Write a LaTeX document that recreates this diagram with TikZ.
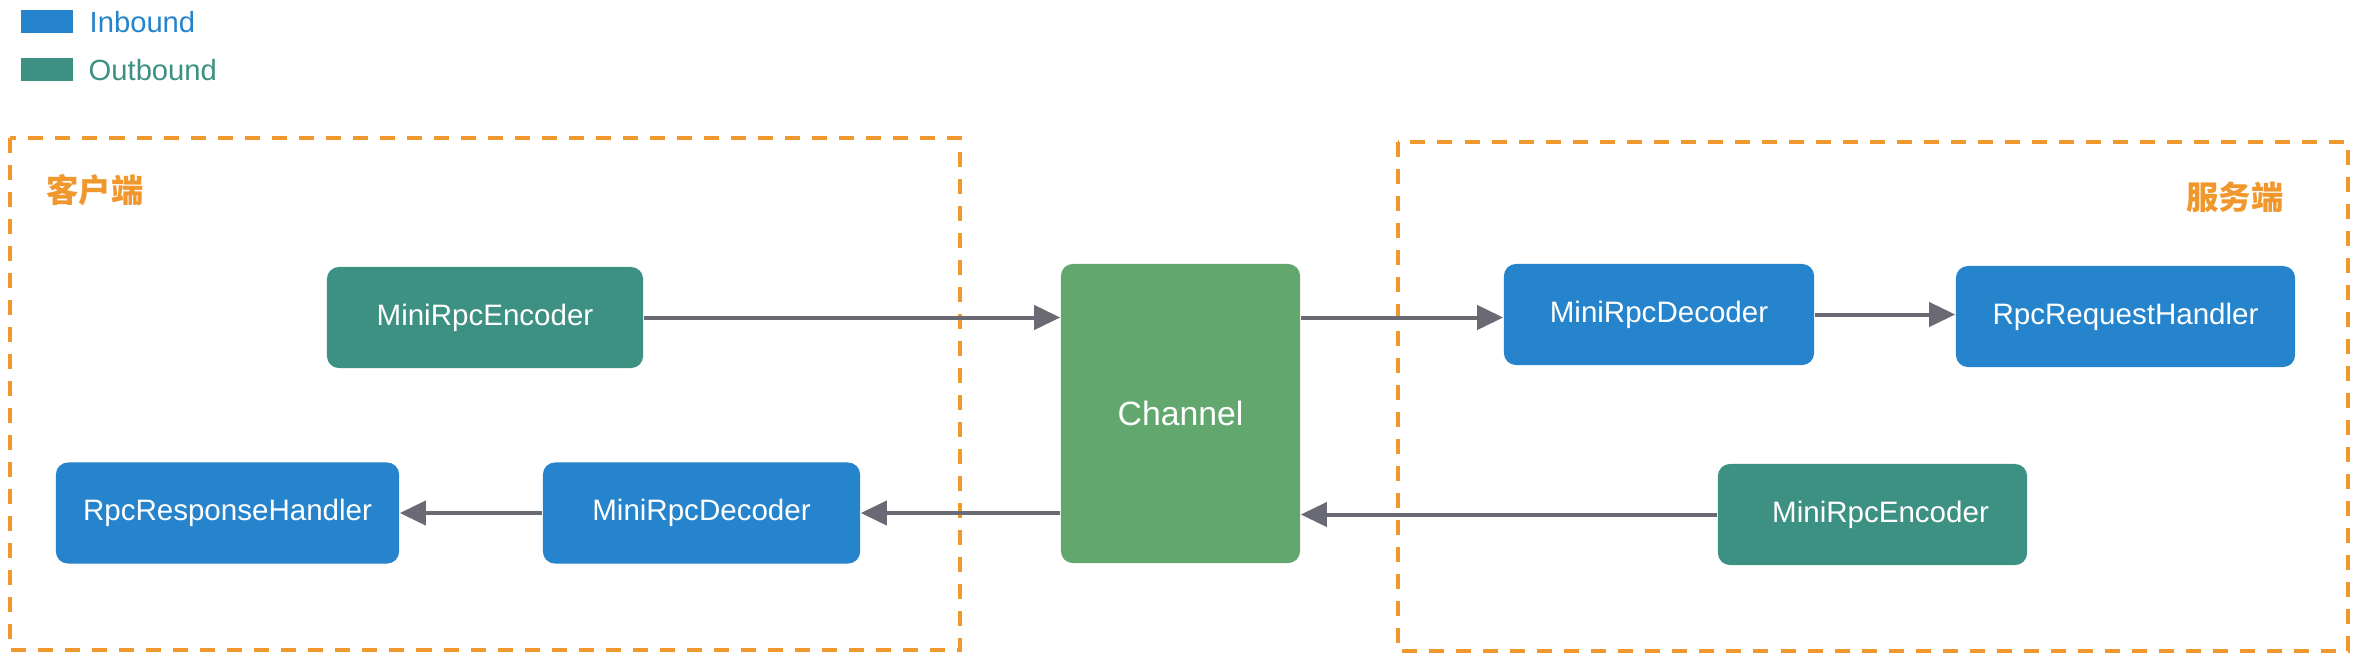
\documentclass[tikz,border=0pt]{standalone}
\usepackage{fontspec}
\setmainfont{Liberation Sans}
\newfontfamily\cjk{Noto Sans CJK SC}
\usetikzlibrary{arrows.meta}

\definecolor{inblue}{HTML}{2684CC}
\definecolor{outteal}{HTML}{3D9182}
\definecolor{chgreen}{HTML}{62A86E}
\definecolor{lineg}{HTML}{6A6A75}
\definecolor{sideor}{HTML}{F0982D}

\begin{document}
\begin{tikzpicture}[x=0.01cm, y=-0.01cm,
    handler/.style={rounded corners=0.12cm, inner sep=0pt, text=white,
        font=\fontsize{8.4}{10}\selectfont, minimum height=1.01cm},
    inb/.style={handler, fill=inblue},
    outb/.style={handler, fill=outteal},
    side/.style={draw=sideor, line width=0.04cm, dash pattern=on 0.15cm off 0.12cm},
    sidelabel/.style={text=sideor, font=\cjk\bfseries\fontsize{9.2}{11}\selectfont},
    flow/.style={draw=lineg, line width=0.04cm, -{Triangle[length=0.26cm, width=0.24cm]}}]
    \useasboundingbox (0,0) rectangle (2364,666);

    % Legend
    \fill[inblue]  (21,10) rectangle (73,33);
    \fill[outteal] (21,58) rectangle (73,81);
    \node[anchor=west, inner sep=0pt, text=inblue, font=\fontsize{8.3}{10}\selectfont] (lin) at (89,22) {Inbound};
    \node[anchor=west, inner sep=0pt, text=outteal, font=\fontsize{8.3}{10}\selectfont] (lout) at (88,70) {Outbound};

    % Client and server areas
    \draw[side] (10,138) rectangle (960,650);
    \draw[side] (1398,142) rectangle (2348,651);
    \node[sidelabel] (client) at (95,190) {客户端};
    \node[sidelabel] (server) at (2235,197) {服务端};

    % Client handlers
    \node[outb, minimum width=3.16cm] (encC)  at (485,317.5) {MiniRpcEncoder};
    \node[inb,  minimum width=3.17cm] (decC)  at (701.5,513) {MiniRpcDecoder};
    \node[inb,  minimum width=3.43cm] (respH) at (227.5,513) {RpcResponseHandler};

    % Channel
    \node[handler, fill=chgreen, minimum width=2.39cm, minimum height=2.99cm,
        font=\fontsize{9.6}{11}\selectfont] (chan) at (1180.5,413.5) {Channel};

    % Server handlers
    \node[inb,  minimum width=3.10cm] (decS) at (1659,314.5) {MiniRpcDecoder};
    \node[inb,  minimum width=3.39cm] (reqH) at (2125.5,316.5) {RpcRequestHandler};
    \node[outb, minimum width=3.09cm] (encS) at (1872.5,514.5) {\hspace{0.16cm}MiniRpcEncoder};

    % Lines
    \draw[flow] (encC.east) -- (encC.east -| chan.west);
    \draw[flow] (chan.east |- encC.east) -- (decS.west |- encC.east);
    \draw[flow] (decS.east) -- (reqH.west |- decS.east);
    \draw[flow] (encS.west) -- (encS.west -| chan.east);
    \draw[flow] (chan.west |- decC.east) -- (decC.east);
    \draw[flow] (decC.west) -- (respH.east);
\end{tikzpicture}
\end{document}
